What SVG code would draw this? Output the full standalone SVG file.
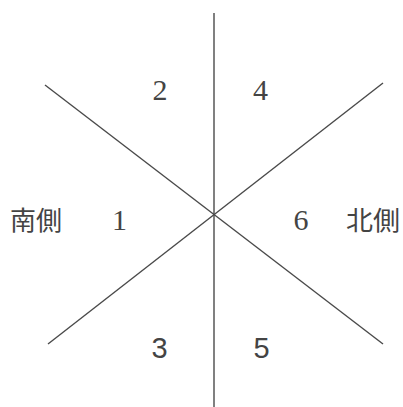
<svg xmlns="http://www.w3.org/2000/svg" width="403" height="407" viewBox="0 0 403 407">
<style>
.ln{stroke:#4a4a4a;stroke-width:1.4;fill:none}
.ser{font-family:"Liberation Serif",serif;font-size:30px;fill:#444;text-anchor:middle}
.san{font-family:"Liberation Sans",sans-serif;font-size:29px;fill:#444;text-anchor:middle}
.cjk{font-family:"Noto Sans CJK JP","Noto Sans CJK SC",sans-serif;font-size:26px;fill:#444}
</style>
<rect width="403" height="407" fill="#fff"/>
<g id="connectors">
<line class="ln" x1="214" y1="13" x2="214" y2="407"/>
<line class="ln" x1="45" y1="85" x2="383" y2="344"/>
<line class="ln" x1="383" y1="83" x2="48" y2="344"/>
</g>
<g id="label-2"><text class="ser" x="160" y="100">2</text></g>
<g id="label-4"><text class="ser" x="260.5" y="100">4</text></g>
<g id="label-1"><text class="ser" x="119.5" y="230">1</text></g>
<g id="label-6"><text class="ser" x="301" y="230">6</text></g>
<g id="label-3"><text class="san" x="159.5" y="358">3</text></g>
<g id="label-5"><text class="san" x="261.5" y="358">5</text></g>
<g id="south"><text class="cjk" x="10" y="230" textLength="52" lengthAdjust="spacingAndGlyphs">南側</text></g>
<g id="north"><text class="cjk" x="346" y="230" textLength="54" lengthAdjust="spacingAndGlyphs">北側</text></g>
</svg>
